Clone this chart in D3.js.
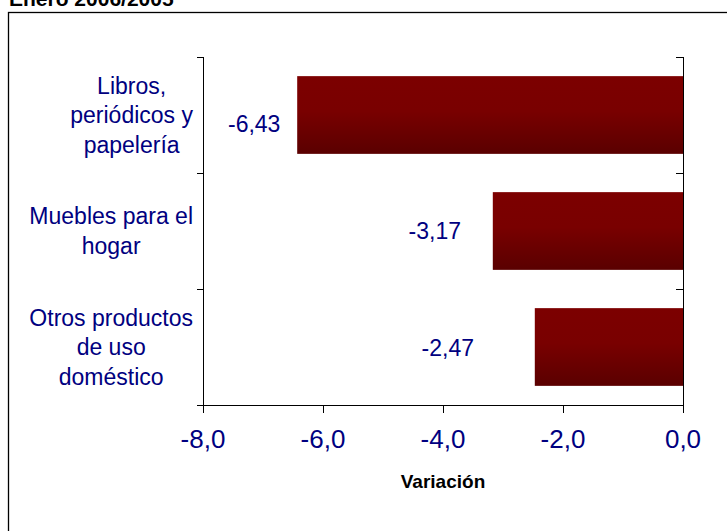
<!DOCTYPE html>
<html lang="es">
<head>
    <meta charset="UTF-8">
    <title>Enero 2006/2005</title>
    <style>
        body { margin: 0; background: #fff; }
        svg { display: block; font-family: "Liberation Sans", Arial, sans-serif; }
        .cat-label, .value-label, .tick-label { fill: #000080; }
    </style>
</head>
<body>
    <svg id="chart" width="727" height="531"></svg>

    <script src="https://d3js.org/d3.v7.min.js"></script>
    <script>
        // datos
        const categorias = [
            ["Libros,", "periódicos y", "papelería"],
            ["Muebles para el", "hogar"],
            ["Otros productos", "de uso", "doméstico"]
        ];
        const valores = [-6.43, -3.17, -2.47];
        const ticksX = [-8, -6, -4, -2, 0];
        const titulo = "Enero 2006/2005";
        const tituloEje = "Variación";

        const width = 727, height = 531;
        const plot = { left: 203, right: 683, top: 57, bottom: 405 };

        // ajustes de posicion de las etiquetas de datos (px)
        const etiquetaDx = [-43, -58, -87];
        const etiquetaDy = [9, 0, 1];

        const es = d3.formatLocale({ decimal: ",", thousands: ".", grouping: [3], currency: ["", "€"], minus: "-" });
        const fmt1 = es.format(".1f");
        const fmt2 = es.format(".2f");

        const svg = d3.select("#chart");
        const ids = d3.range(valores.length);

        const x = d3.scaleLinear()
            .domain([-8, 0])
            .range([plot.left, plot.right]);

        const y = d3.scaleBand()
            .domain(ids)
            .range([plot.top, plot.bottom])
            .paddingInner(0.33)
            .paddingOuter(0.165);

        // degradado de las barras
        const grad = svg.append("defs").append("linearGradient")
            .attr("id", "barGrad")
            .attr("x1", 0).attr("y1", 0).attr("x2", 0).attr("y2", 1);
        grad.append("stop").attr("offset", "0%").attr("stop-color", "#7c0000");
        grad.append("stop").attr("offset", "45%").attr("stop-color", "#790000");
        grad.append("stop").attr("offset", "100%").attr("stop-color", "#5a0000");

        // marco
        svg.append("rect")
            .attr("x", 8.5).attr("y", 12.5)
            .attr("width", width + 10).attr("height", height + 10)
            .attr("fill", "none")
            .attr("stroke", "#000")
            .attr("stroke-width", 1.3);

        // titulo (cortado arriba, como en el original)
        svg.append("text")
            .attr("x", 9).attr("y", 6)
            .attr("font-size", 21)
            .attr("font-weight", "bold")
            .attr("fill", "#000")
            .text(titulo);

        // barras
        svg.selectAll(".bar")
            .data(valores)
            .enter()
            .append("rect")
            .attr("class", "bar")
            .attr("x", d => x(d))
            .attr("y", (d, i) => y(i))
            .attr("width", d => x(0) - x(d))
            .attr("height", y.bandwidth())
            .attr("fill", "url(#barGrad)");

        // limites de categoria (para las marcas)
        const bordes = ids.map(i => y(i) - y.step() * y.paddingInner() / 2).concat([plot.bottom]);
        bordes[0] = plot.top;

        // eje izquierdo
        const ejes = svg.append("g").attr("stroke", "#000").attr("stroke-width", 1);
        ejes.append("line")
            .attr("x1", plot.left + 0.5).attr("x2", plot.left + 0.5)
            .attr("y1", plot.top).attr("y2", plot.bottom + 0.5);
        ejes.selectAll(".tl")
            .data(bordes)
            .enter()
            .append("line")
            .attr("x1", plot.left - 6).attr("x2", plot.left + 0.5)
            .attr("y1", d => Math.round(d) + 0.5).attr("y2", d => Math.round(d) + 0.5);

        // eje derecho (en cero)
        ejes.append("line")
            .attr("x1", x(0) + 0.5).attr("x2", x(0) + 0.5)
            .attr("y1", plot.top).attr("y2", plot.bottom + 0.5);
        ejes.selectAll(".tr")
            .data(bordes.slice(0, -1))
            .enter()
            .append("line")
            .attr("x1", x(0) - 7).attr("x2", x(0) + 0.5)
            .attr("y1", d => Math.round(d) + 0.5).attr("y2", d => Math.round(d) + 0.5);

        // eje x
        ejes.append("line")
            .attr("x1", plot.left).attr("x2", x(0) + 1)
            .attr("y1", plot.bottom + 0.5).attr("y2", plot.bottom + 0.5);
        ejes.selectAll(".tx")
            .data(ticksX)
            .enter()
            .append("line")
            .attr("x1", d => Math.round(x(d)) + 0.5).attr("x2", d => Math.round(x(d)) + 0.5)
            .attr("y1", plot.bottom).attr("y2", plot.bottom + 8);

        svg.selectAll(".tick-label")
            .data(ticksX)
            .enter()
            .append("text")
            .attr("class", "tick-label")
            .attr("x", d => x(d))
            .attr("y", plot.bottom + 43)
            .attr("text-anchor", "middle")
            .attr("font-size", 26)
            .text(d => fmt1(d));

        svg.append("text")
            .attr("x", (plot.left + plot.right) / 2)
            .attr("y", plot.bottom + 83)
            .attr("text-anchor", "middle")
            .attr("font-size", 19)
            .attr("font-weight", "bold")
            .attr("fill", "#000")
            .text(tituloEje);

        // etiquetas de categoria: bloque alineado a la derecha, lineas centradas
        const lineH = 29.5;
        const bloqueDerecha = 193;
        categorias.forEach((lineas, i) => {
            const g = svg.append("g");
            const cy = y(i) + y.bandwidth() / 2;
            const t = g.selectAll("text")
                .data(lineas)
                .enter()
                .append("text")
                .attr("class", "cat-label")
                .attr("font-size", 23)
                .attr("text-anchor", "middle")
                .attr("dominant-baseline", "central")
                .attr("y", (d, j) => cy + (j - (lineas.length - 1) / 2) * lineH)
                .text(d => d);
            const maxW = d3.max(t.nodes(), n => n.getComputedTextLength());
            t.attr("x", bloqueDerecha - maxW / 2);
        });

        // etiquetas de datos
        svg.selectAll(".value-label")
            .data(valores)
            .enter()
            .append("text")
            .attr("class", "value-label")
            .attr("x", (d, i) => x(d) + etiquetaDx[i])
            .attr("y", (d, i) => y(i) + y.bandwidth() / 2 + etiquetaDy[i])
            .attr("text-anchor", "middle")
            .attr("dominant-baseline", "central")
            .attr("font-size", 23)
            .text(d => fmt2(d));
    </script>
</body>
</html>
